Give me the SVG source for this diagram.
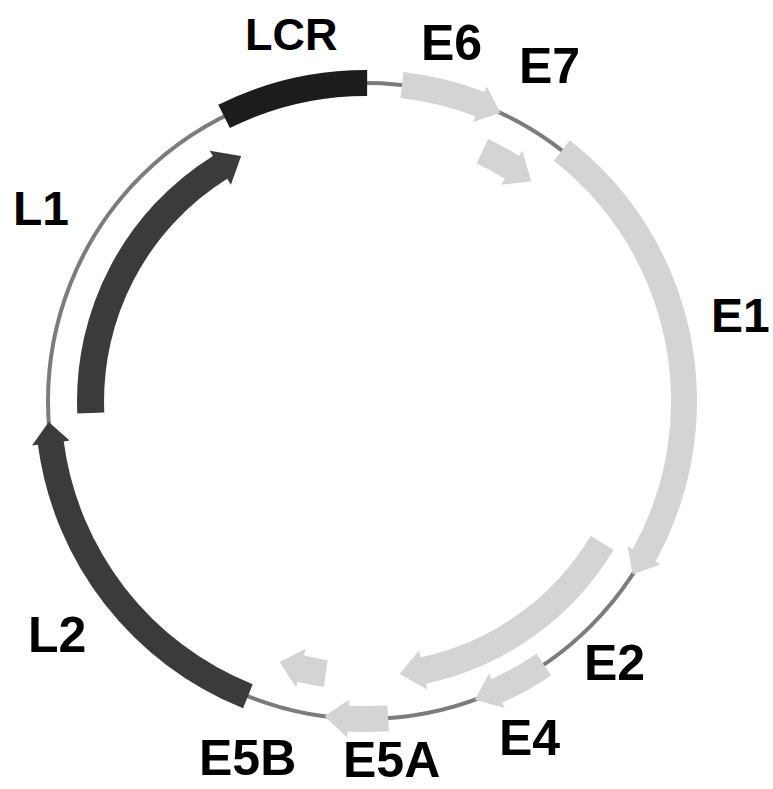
<svg xmlns="http://www.w3.org/2000/svg" width="773" height="789" viewBox="0 0 773 789">
<style>
.lbl{font-family:"Liberation Sans",Arial,sans-serif;font-weight:bold;font-size:50px;fill:#000}
.early{fill:#d4d4d4}
.late{fill:#3b3b3b}
.lcr{fill:#1c1c1c}
.backbone{fill:none;stroke:#7c7c7c;stroke-width:4}
</style>
<rect width="773" height="789" fill="#fff"/>
<g id="connectors">
<circle class="backbone" cx="366" cy="401" r="318"/>
</g>
<g id="LCR">
<path class="lcr" d="M 218.3 104.8 A 331 331 0 0 1 367.2 70 L 367.1 96 A 305 305 0 0 0 229.9 128.1 Z"/>
<text class="lbl" x="245" y="50" style="font-size:45px">LCR</text>
</g>
<g id="E6">
<path class="early" d="M 403.5 72.1 A 331 331 0 0 1 484.6 92.0 L 486.8 86.4 L 500.4 112.8 L 473.2 121.9 L 475.3 116.3 A 305 305 0 0 0 400.5 98.0 Z"/>
<text class="lbl" x="421" y="60">E6</text>
</g>
<g id="E7">
<path class="early" d="M 488.1 139.1 A 289 289 0 0 1 519.1 155.9 L 522.3 150.8 L 531.5 181.4 L 501.1 184.8 L 504.8 178.8 A 262 262 0 0 0 476.7 163.5 Z"/>
<text class="lbl" x="519" y="83">E7</text>
</g>
<g id="E1">
<path class="early" d="M 569.8 140.2 A 331 331 0 0 1 655.5 561.5 L 660.7 564.4 L 632.7 574.2 L 627.5 546.0 L 632.8 548.9 A 305 305 0 0 0 553.8 160.7 Z"/>
<text class="lbl" x="711" y="332" style="font-size:48px">E1</text>
</g>
<g id="E2">
<path class="early" d="M 613.7 549.8 A 289 289 0 0 1 426.1 683.7 L 427.3 689.5 L 399.5 673.9 L 419.0 650.4 L 420.5 657.3 A 262 262 0 0 0 590.6 535.9 Z"/>
<text class="lbl" x="584" y="680">E2</text>
</g>
<g id="E4">
<path class="early" d="M 551.1 675.4 A 331 331 0 0 1 502.2 702.7 L 504.7 708.1 L 474.8 699.8 L 489.0 673.5 L 491.5 679.0 A 305 305 0 0 0 536.6 653.8 Z"/>
<text class="lbl" x="499" y="755">E4</text>
</g>
<g id="E5A">
<path class="early" d="M 389.1 731.2 A 331 331 0 0 1 347.5 731.5 L 347.2 737.5 L 324.5 716.3 L 349.3 699.5 L 349.0 705.5 A 305 305 0 0 0 387.3 705.3 Z"/>
<text class="lbl" x="343" y="777">E5A</text>
</g>
<g id="E5B">
<path class="early" d="M 323.8 686.9 A 289 289 0 0 1 297.6 681.8 L 296.1 687.6 L 279.6 662.1 L 305.6 648.8 L 304.0 655.6 A 262 262 0 0 0 327.7 660.2 Z"/>
<text class="lbl" x="199" y="775">E5B</text>
</g>
<g id="L2">
<path class="late" d="M 243.1 708.3 A 331 331 0 0 1 37.9 444.8 L 32.0 445.6 L 48.7 422.1 L 69.6 440.6 L 63.7 441.4 A 305 305 0 0 0 252.7 684.2 Z"/>
<text class="lbl" x="28" y="652">L2</text>
</g>
<g id="L1">
<path class="late" d="M 77.3 413.6 A 289 289 0 0 1 212.9 155.9 L 209.7 150.8 L 241.1 156.0 L 230.9 184.8 L 227.2 178.8 A 262 262 0 0 0 104.3 412.4 Z"/>
<text class="lbl" x="13" y="225" style="font-size:48px">L1</text>
</g>
</svg>
